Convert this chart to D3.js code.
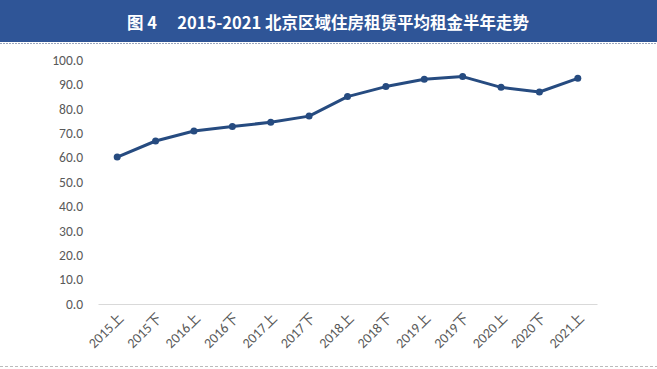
<!DOCTYPE html>
<html>
<head>
<meta charset="utf-8">
<script src="https://cdn.jsdelivr.net/npm/d3@7"></script>
<style>
  body { margin: 0; background: #fff; }
  svg { display: block; font-family: "Microsoft YaHei", "Noto Sans CJK SC", sans-serif; }
</style>
</head>
<body>
<div id="container"></div>
<script>
const WIDTH = 657;
const HEIGHT = 369;
const MARGIN = { TOP: 60, BOTTOM: 65, LEFT: 98, RIGHT: 60 };

const title = '图 4\u2003\u00a02015-2021 北京区域住房租赁平均租金半年走势';
const categories = ['2015上', '2015下', '2016上', '2016下', '2017上', '2017下',
  '2018上', '2018下', '2019上', '2019下', '2020上', '2020下', '2021上'];
const rents = [60.2, 66.8, 70.9, 72.7, 74.5, 77.0, 85.0, 89.1, 92.1, 93.2, 88.8, 86.9, 92.5];
const yTicks = [0, 10, 20, 30, 40, 50, 60, 70, 80, 90, 100];

const width = WIDTH - MARGIN.LEFT - MARGIN.RIGHT;
const height = 304 - MARGIN.TOP;
const labelFont = 'Calibri, Carlito, "Liberation Sans", "Noto Sans CJK SC", sans-serif';

const svg = d3.select('#container')
  .append('svg')
    .attr('width', WIDTH)
    .attr('height', HEIGHT);

// title banner
svg.append('rect')
  .attr('x', 0).attr('y', 0)
  .attr('width', WIDTH).attr('height', 42)
  .attr('fill', '#2f5597');
svg.append('line')
  .attr('x1', 0).attr('x2', WIDTH)
  .attr('y1', 43.5).attr('y2', 43.5)
  .attr('stroke', '#9aa6bd')
  .attr('stroke-dasharray', '2,1');
svg.append('text')
  .attr('x', 328).attr('y', 22)
  .attr('text-anchor', 'middle')
  .attr('dominant-baseline', 'central')
  .attr('fill', '#fff')
  .attr('font-size', 16.5)
  .attr('font-weight', 'bold')
  .text(title);

svg.append('line')
  .attr('x1', 0).attr('x2', WIDTH)
  .attr('y1', 366.5).attr('y2', 366.5)
  .attr('stroke', '#bbb')
  .attr('stroke-dasharray', '3,2');

const chart = svg.append('g')
  .attr('transform', `translate(${MARGIN.LEFT}, ${MARGIN.TOP})`);

const x = d3.scaleBand().domain(categories).range([0, width]);
const y = d3.scaleLinear().domain([0, 100]).range([height, 0]);

// y axis labels
const yAxis = chart.append('g')
  .call(d3.axisLeft(y).tickValues(yTicks).tickSize(0).tickPadding(15)
    .tickFormat(d3.format('.1f')));
yAxis.select('.domain').remove();
yAxis.selectAll('text')
  .attr('fill', '#595959')
  .attr('font-size', 13.5)
  .attr('font-family', labelFont);

// x axis
const xAxis = chart.append('g')
  .attr('transform', `translate(0, ${height})`)
  .call(d3.axisBottom(x).tickSize(0).tickPadding(8));
xAxis.select('.domain').attr('stroke', '#d9d9d9').attr('stroke-width', 1);
xAxis.selectAll('text')
  .attr('fill', '#595959')
  .attr('font-size', 14)
  .attr('font-family', labelFont)
  .attr('text-anchor', 'end')
  .attr('dy', '0.35em')
  .attr('transform', 'translate(-2, 6) rotate(-45)');

const cx = d => x(d) + x.bandwidth() / 2;

chart.append('path')
  .datum(rents)
  .attr('fill', 'none')
  .attr('stroke', '#264b80')
  .attr('stroke-width', 3)
  .attr('stroke-linejoin', 'round')
  .attr('d', d3.line().x((d, i) => cx(categories[i])).y(d => y(d)));

chart.selectAll('.dot')
  .data(rents)
  .enter()
  .append('circle')
  .attr('class', 'dot')
  .attr('cx', (d, i) => cx(categories[i]))
  .attr('cy', d => y(d))
  .attr('r', 3.5)
  .attr('fill', '#264b80');
</script>
</body>
</html>
